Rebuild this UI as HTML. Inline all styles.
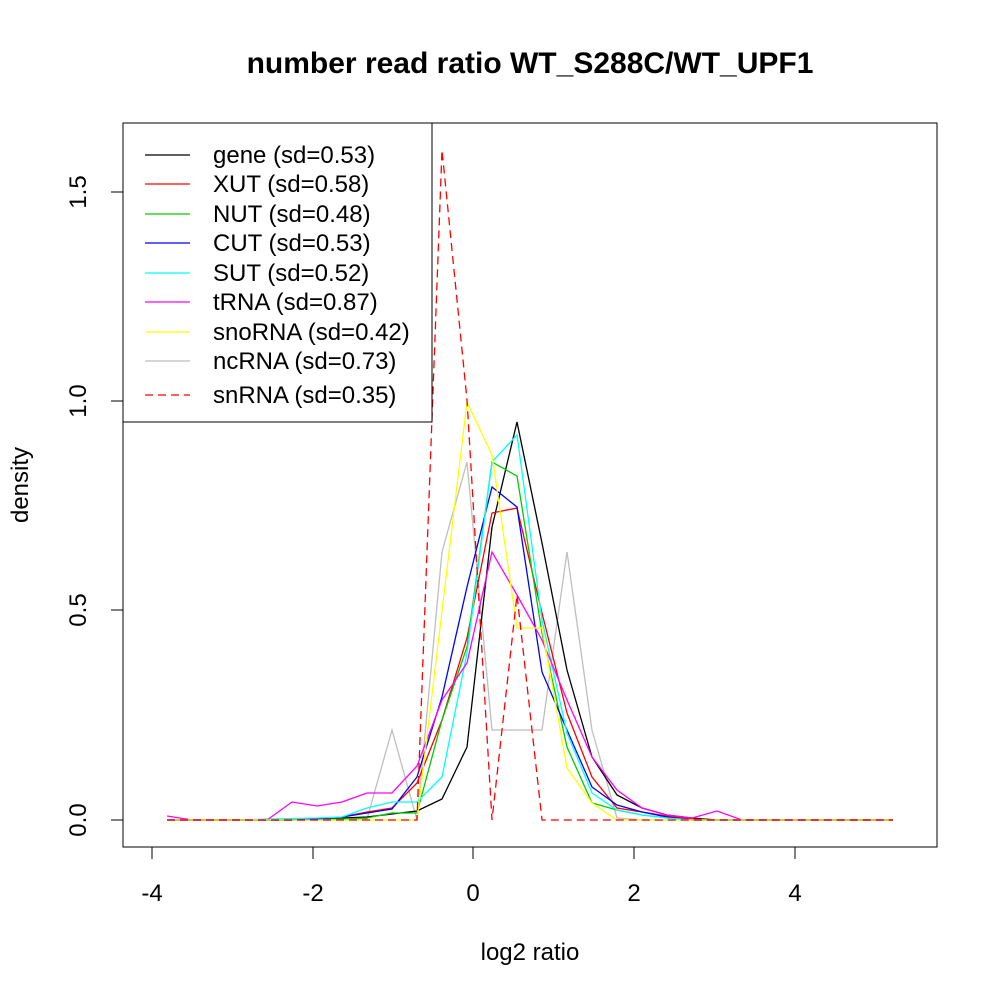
<!DOCTYPE html><html><head><style>body{margin:0;background:#fff}svg{font-family:"Liberation Sans",sans-serif}</style></head><body>
<svg width="1000" height="1000" xmlns="http://www.w3.org/2000/svg">
<rect width="1000" height="1000" fill="#fff"/>
<text x="530" y="73" font-size="30" font-weight="bold" text-anchor="middle">number read ratio WT_S288C/WT_UPF1</text>
<rect x="123" y="123" width="814" height="724" fill="none" stroke="#000"/>
<g stroke="#000"><line x1="152" y1="847" x2="795" y2="847"/>
<line x1="152" y1="847" x2="152" y2="859"/><line x1="313" y1="847" x2="313" y2="859"/><line x1="473" y1="847" x2="473" y2="859"/><line x1="634" y1="847" x2="634" y2="859"/><line x1="795" y1="847" x2="795" y2="859"/>
<line x1="123" y1="820" x2="123" y2="192"/>
<line x1="111" y1="820" x2="123" y2="820"/><line x1="111" y1="610" x2="123" y2="610"/><line x1="111" y1="401" x2="123" y2="401"/><line x1="111" y1="192" x2="123" y2="192"/></g>
<g font-size="24" text-anchor="middle"><text x="152" y="901">-4</text><text x="313" y="901">-2</text><text x="473" y="901">0</text><text x="634" y="901">2</text><text x="795" y="901">4</text>
<text x="530" y="960">log2 ratio</text>
<text transform="translate(86,820) rotate(-90)">0.0</text><text transform="translate(86,610) rotate(-90)">0.5</text><text transform="translate(86,401) rotate(-90)">1.0</text><text transform="translate(86,192) rotate(-90)">1.5</text>
<text transform="translate(28,485) rotate(-90)">density</text></g>
<g fill="none" stroke-width="1.3">
<polyline stroke="#bebebe" points="167,820 342,820 367,819 392,730 417,820 442,552 467,462 492,730 542,730 567,552 592,730 617,818 642,820 893,820"/>
<polyline stroke="#000" points="167,820 292,820 317,819 342,818 367,817 392,814 417,811 442,799 467,747 492,527 517,422 542,543 567,670 592,757 617,795 642,808 667,815 692,818 717,820 893,820"/>
<polyline stroke="#f00" points="167,820 292,820 317,819 342,817 367,812 392,808 417,783 442,720 467,638 492,513 517,508 542,613 567,713 592,777 617,808 642,812 667,816 692,819 717,820 893,820"/>
<polyline stroke="#0c0" points="167,820 292,820 342,819 367,818 392,813 417,813 442,720 467,647 492,462 517,476 542,633 567,747 592,803 617,810 642,815 667,818 692,820 893,820"/>
<polyline stroke="#00f" points="167,820 292,820 317,819 342,817 367,813 392,809 417,777 442,697 467,587 492,487 517,507 542,672 567,730 592,787 617,805 642,812 667,817 692,820 893,820"/>
<polyline stroke="#0ff" points="167,820 242,820 267,819 317,818 342,817 367,808 392,802 417,802 442,777 467,653 492,462 517,435 542,620 567,733 592,793 617,810 642,815 667,818 692,820 893,820"/>
<polyline stroke="#f0f" points="167,816 192,820 267,820 292,802 317,806 342,802 367,793 392,793 417,766 442,700 467,663 492,552 517,595 542,640 567,700 592,757 617,790 642,808 667,815 692,818 717,811 742,820 893,820"/>
<polyline stroke="#ff0" points="167,820 417,820 442,611 467,402 492,455 517,628 542,628 567,768 592,803 617,820 893,820"/>
<polyline stroke="#f00" stroke-dasharray="8,5" points="167,820 417,820 442,150 467,400 492,820 517,595 542,820 893,820"/>
</g>
<rect x="123" y="123" width="309" height="299" fill="#fff" stroke="#000"/>
<g stroke-width="1.3"><line x1="145" y1="155" x2="190" y2="155" stroke="#000"/><line x1="145" y1="184" x2="190" y2="184" stroke="#f00"/><line x1="145" y1="214" x2="190" y2="214" stroke="#0c0"/><line x1="145" y1="243" x2="190" y2="243" stroke="#00f"/><line x1="145" y1="273" x2="190" y2="273" stroke="#0ff"/><line x1="145" y1="302" x2="190" y2="302" stroke="#f0f"/><line x1="145" y1="332" x2="190" y2="332" stroke="#ff0"/><line x1="145" y1="361" x2="190" y2="361" stroke="#bebebe"/><line x1="145" y1="395" x2="190" y2="395" stroke="#f00" stroke-dasharray="8,5"/></g>
<g font-size="24"><text x="213" y="163">gene (sd=0.53)</text><text x="213" y="192">XUT (sd=0.58)</text><text x="213" y="222">NUT (sd=0.48)</text><text x="213" y="251">CUT (sd=0.53)</text><text x="213" y="281">SUT (sd=0.52)</text><text x="213" y="310">tRNA (sd=0.87)</text><text x="213" y="340">snoRNA (sd=0.42)</text><text x="213" y="369">ncRNA (sd=0.73)</text><text x="213" y="403">snRNA (sd=0.35)</text></g>
</svg></body></html>
